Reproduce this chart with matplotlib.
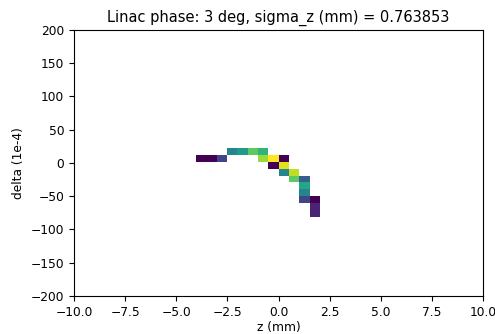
import numpy as np
import matplotlib
matplotlib.use("Agg")
import matplotlib.pyplot as plt

plt.rcParams["font.size"] = 8.8

# cell centres (z in mm, delta in 1e-4) and particle counts
z_vals = [-2.26, -1.76, -1.25, -0.75,
          -3.78, -3.27, -2.77, -0.75, -0.24, 0.26,
          -0.24, 0.26,
          0.26, 0.77,
          0.77, 1.27,
          1.27,
          1.27,
          1.27, 1.78,
          1.78,
          1.78]
delta_vals = [17.0, 17.0, 17.0, 17.0,
              6.7, 6.7, 6.7, 6.7, 6.7, 6.7,
              -3.6, -3.6,
              -13.9, -13.9,
              -24.2, -24.2,
              -34.4,
              -44.7,
              -55.0, -55.0,
              -65.3,
              -75.6]
counts = [10, 12, 16, 14,
          1, 1, 5, 18, 21, 1,
          1, 20,
          10, 19,
          16, 7,
          13,
          10,
          5, 1,
          3,
          3]

z_edges = np.linspace(-4.03, 2.03, 13)
delta_edges = np.linspace(-80.7, 22.1, 11)

fig = plt.figure(figsize=(4.95, 3.34), dpi=100)
ax = fig.add_axes([0.1495, 0.1138, 0.8263, 0.7964])
ax.hist2d(z_vals, delta_vals, bins=[z_edges, delta_edges], weights=counts,
          cmin=1, cmap="viridis")
ax.set_xlim(-10, 10)
ax.set_ylim(-200, 200)
ax.set_xticks(np.arange(-10, 10.1, 2.5))
ax.set_yticks(np.arange(-200, 201, 50))
ax.set_xlabel("z (mm)", labelpad=1.5)
ax.set_ylabel("delta (1e-4)")
ax.set_title("Linac phase: 3 deg, sigma_z (mm) = 0.763853")
fig.savefig("out.png", dpi=100)
